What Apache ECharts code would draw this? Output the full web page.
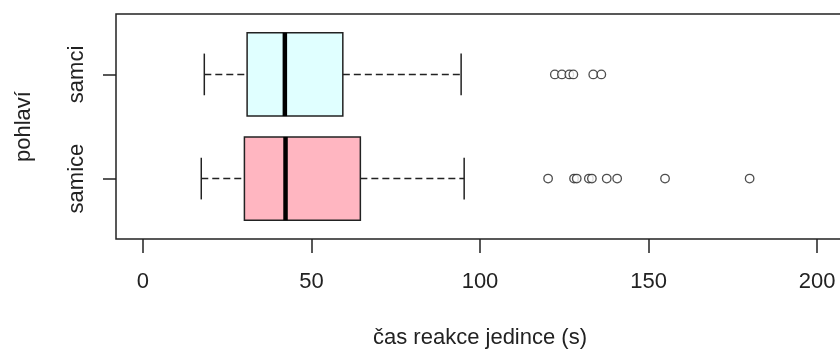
<!DOCTYPE html>
<html>
<head>
<meta charset="utf-8">
<title>čas reakce jedince</title>
<script src="https://cdn.jsdelivr.net/npm/echarts@6/dist/echarts.min.js"></script>
<style>
  html, body { margin: 0; padding: 0; background: #fff; }
  #chart { width: 840px; height: 354px; }
</style>
</head>
<body>
<div id="chart"></div>
<script>
// Groups, bottom to top
const categories = ['samice', 'samci'];

// Five-number summaries per group: [lower whisker, Q1, median, Q3, upper whisker]
const samiceStats = [17.3, 30.1, 42.3, 64.5, 95.3];
const samciStats = [18.2, 30.9, 42.1, 59.3, 94.4];

// Points beyond the whiskers
const samiceOutliers = [120.2, 127.9, 128.7, 132.3, 133.2, 137.6, 140.7, 154.9, 180.0];
const samciOutliers = [122.2, 124.3, 126.5, 127.7, 133.6, 136.0];

// Axis ticks
const xTicks = [0, 50, 100, 150, 200];

const boxFills = ['#FFB6C1', '#E0FFFF'];
const stats = [samiceStats, samciStats];
const outliers = [samiceOutliers, samciOutliers];

const FONT = '"Liberation Sans", Arial, sans-serif';
const INK = '#222';

// Box data: [groupPosition, lw, q1, med, q3, uw]
const boxData = stats.map((s, i) => [i + 1].concat(s));

// Outlier data: [value, groupPosition]
const outlierData = [];
outliers.forEach((arr, i) => arr.forEach(v => outlierData.push([v, i + 1])));

function renderBox(params, api) {
  const y = api.value(0);
  const lw = api.value(1), q1 = api.value(2), med = api.value(3), q3 = api.value(4), uw = api.value(5);
  const halfBox = api.size([0, 0.4])[1];
  const halfCap = api.size([0, 0.2])[1];
  const pLw = api.coord([lw, y]);
  const pQ1 = api.coord([q1, y]);
  const pMed = api.coord([med, y]);
  const pQ3 = api.coord([q3, y]);
  const pUw = api.coord([uw, y]);
  const cy = pQ1[1];
  const lineStyle = { stroke: INK, lineWidth: 1.5, fill: null };
  const dashStyle = { stroke: INK, lineWidth: 1.5, lineDash: [7, 4], fill: null };
  return {
    type: 'group',
    children: [
      { type: 'line', shape: { x1: pLw[0], y1: cy, x2: pQ1[0], y2: cy }, style: dashStyle },
      { type: 'line', shape: { x1: pQ3[0], y1: cy, x2: pUw[0], y2: cy }, style: dashStyle },
      { type: 'line', shape: { x1: pLw[0], y1: cy - halfCap, x2: pLw[0], y2: cy + halfCap }, style: lineStyle },
      { type: 'line', shape: { x1: pUw[0], y1: cy - halfCap, x2: pUw[0], y2: cy + halfCap }, style: lineStyle },
      {
        type: 'rect',
        shape: { x: pQ1[0], y: cy - halfBox, width: pQ3[0] - pQ1[0], height: 2 * halfBox },
        style: { fill: boxFills[params.dataIndex], stroke: INK, lineWidth: 1.5 }
      },
      { type: 'line', shape: { x1: pMed[0], y1: cy - halfBox, x2: pMed[0], y2: cy + halfBox }, style: { stroke: '#000', lineWidth: 4.5 } }
    ]
  };
}

const chart = echarts.init(document.getElementById('chart'), null, { renderer: 'canvas' });
chart.setOption({
  animation: false,
  backgroundColor: '#fff',
  textStyle: { fontFamily: FONT },
  grid: {
    left: 116, top: 14, width: 728, height: 225,
    outerBoundsMode: 'none',
    containLabel: false,
    show: true, borderColor: INK, borderWidth: 1.5, backgroundColor: 'transparent'
  },
  xAxis: {
    type: 'value',
    min: -8, max: 208,
    name: 'čas reakce jedince (s)',
    nameLocation: 'middle',
    nameGap: 88,
    nameTextStyle: { fontSize: 22, color: INK, fontFamily: FONT },
    axisLine: { show: false, onZero: false },
    splitLine: { show: false },
    axisTick: { show: true, length: 14, customValues: xTicks, lineStyle: { color: INK, width: 1.5 } },
    axisLabel: { customValues: xTicks, margin: 32, fontSize: 22, color: INK, fontFamily: FONT }
  },
  yAxis: {
    type: 'value',
    min: 0.42, max: 2.58,
    name: 'pohlaví',
    nameLocation: 'middle',
    nameRotate: 90,
    nameGap: 81,
    nameTextStyle: { fontSize: 22, color: INK, fontFamily: FONT },
    axisLine: { show: false, onZero: false },
    splitLine: { show: false },
    axisTick: { show: true, length: 13, customValues: [1, 2], lineStyle: { color: INK, width: 1.5 } },
    axisLabel: {
      customValues: [1, 2],
      rotate: 90,
      margin: 28,
      fontSize: 22, color: INK, fontFamily: FONT,
      formatter: v => categories[Math.round(v) - 1]
    }
  },
  series: [
    {
      type: 'custom',
      renderItem: renderBox,
      encode: { x: [1, 2, 3, 4, 5], y: 0 },
      data: boxData,
      z: 2
    },
    {
      type: 'scatter',
      data: outlierData,
      symbol: 'circle',
      symbolSize: 8.5,
      itemStyle: { color: '#fff', borderColor: INK, borderWidth: 1.3 },
      z: 3
    }
  ]
});
</script>
</body>
</html>
